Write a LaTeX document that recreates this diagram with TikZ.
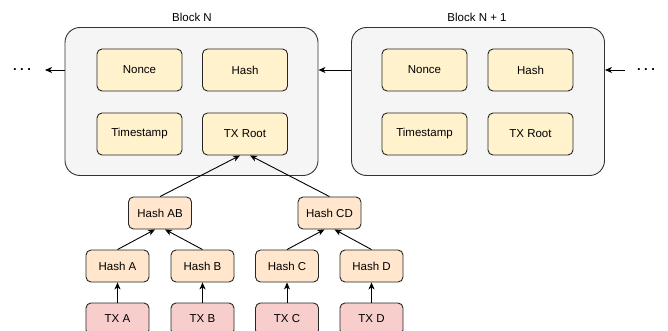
\documentclass[tikz,border=0pt]{standalone}
\usepackage{fontspec}
\setmainfont{Liberation Sans}
\usetikzlibrary{arrows.meta}
\begin{document}
\begin{tikzpicture}[x=1pt,y=-1pt,
  every node/.style={font=\fontsize{11.5}{13}\selectfont},
  blockbox/.style={draw=black!80,fill=black!4,rounded corners=15pt,line width=0.9pt,minimum width=253pt,minimum height=148pt,inner sep=0pt},
  fieldbox/.style={draw=black!85,fill={rgb,255:red,255;green,242;blue,204},rounded corners=5pt,line width=0.9pt,minimum width=85pt,minimum height=42pt,inner sep=0pt},
  hashbox/.style={draw=black!85,fill={rgb,255:red,255;green,230;blue,204},rounded corners=5pt,line width=0.9pt,minimum width=63pt,minimum height=32pt,inner sep=0pt},
  txbox/.style={draw=black!85,fill={rgb,255:red,248;green,206;blue,204},rounded corners=5pt,line width=0.9pt,minimum width=63pt,minimum height=32pt,inner sep=0pt},
  conn/.style={-{Stealth[length=7pt,width=6pt,inset=2pt]},line width=0.9pt,draw=black},
  dotsnode/.style={font=\fontsize{13}{14}\selectfont\bfseries,inner sep=0pt}
]
\useasboundingbox (0,0) rectangle (668,331);
\clip (0,0) rectangle (668,331);
% blocks
\node[blockbox] (bn) at (191.5,101.5) {};
\node[blockbox] (bn1) at (478,101.5) {};
\node (lbn) at (192,17) {Block N};
\node (lbn1) at (477,17) {Block N + 1};
% fields block N
\node[fieldbox] (n1) at (139.5,70) {Nonce};
\node[fieldbox] (h1) at (245,70) {Hash};
\node[fieldbox] (t1) at (139.5,134) {Timestamp};
\node[fieldbox] (r1) at (245,134) {TX Root};
% fields block N+1
\node[fieldbox] (n2) at (424.5,70) {Nonce};
\node[fieldbox] (h2) at (530.5,70) {Hash};
\node[fieldbox] (t2) at (424.5,134) {Timestamp};
\node[fieldbox] (r2) at (530.5,134) {TX Root};
% dots
\node[dotsnode] (dl) at (22,70) {.\hspace{3.5pt}.\hspace{3.5pt}.};
\node[dotsnode] (dr) at (646,70) {.\hspace{3.5pt}.\hspace{3.5pt}.};
\coordinate (al) at (45,70);
\coordinate (ar) at (625,70);
% chain arrows
\draw[conn] (bn.west |- al) -- (al);
\draw[conn] (bn1.west |- al) -- (bn.east |- al);
\draw[conn] (ar) -- (bn1.east |- ar);
% merkle tree
\node[hashbox] (hab) at (160,213) {Hash AB};
\node[hashbox] (hcd) at (329.5,213) {Hash CD};
\node[hashbox] (ha) at (117.5,266) {Hash A};
\node[hashbox] (hb) at (202.5,266) {Hash B};
\node[hashbox] (hc) at (287,266) {Hash C};
\node[hashbox] (hd) at (371.5,266) {Hash D};
\node[txbox] (ta) at (117.5,319) {TX A};
\node[txbox] (tb) at (202.5,319) {TX B};
\node[txbox] (tc) at (287,319) {TX C};
\node[txbox] (td) at (371.5,319) {TX D};
\draw[conn] (hab.north) -- ([xshift=-5pt]r1.south);
\draw[conn] (hcd.north) -- ([xshift=5pt]r1.south);
\draw[conn] (ha.north) -- ([xshift=-5pt]hab.south);
\draw[conn] (hb.north) -- ([xshift=5pt]hab.south);
\draw[conn] (hc.north) -- ([xshift=-5pt]hcd.south);
\draw[conn] (hd.north) -- ([xshift=5pt]hcd.south);
\draw[conn] (ta.north) -- (ha.south);
\draw[conn] (tb.north) -- (hb.south);
\draw[conn] (tc.north) -- (hc.south);
\draw[conn] (td.north) -- (hd.south);
\end{tikzpicture}
\end{document}
